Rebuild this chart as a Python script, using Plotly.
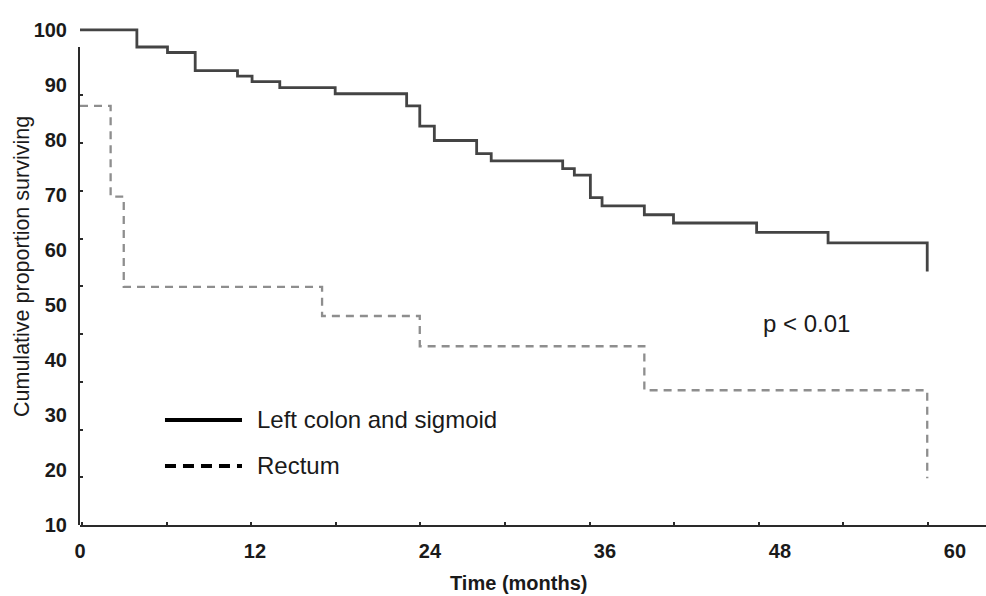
import plotly.graph_objects as go

# ---- data ----
left_months = [0, 3.9, 6.0, 7.9, 10.8, 11.8, 13.7, 17.5, 22.4, 23.3, 24.3, 27.2, 28.2,
               33.1, 33.9, 35.0, 35.8, 38.7, 40.7, 46.4, 51.3, 58.1]
left_surv = [100, 96.9, 95.9, 92.6, 91.6, 90.6, 89.5, 88.4, 86.2, 82.5, 79.9, 77.5, 76.2,
             74.8, 73.6, 69.5, 68.0, 66.4, 64.9, 63.2, 61.3, 56.1]
rect_months = [0, 2.1, 3.0, 16.6, 23.3, 38.7, 58.1]
rect_surv = [86.2, 69.7, 53.3, 48.0, 42.5, 34.5, 18.5]

x_ticks = [0, 12, 24, 36, 48, 60]
y_ticks = [10, 20, 30, 40, 50, 60, 70, 80, 90, 100]
series_names = ["Left colon and sigmoid", "Rectum"]
p_text = "p < 0.01"

FONT = "Liberation Sans, Arial, sans-serif"

fig = go.Figure()
fig.add_trace(go.Scatter(x=left_months, y=left_surv, mode="lines", line_shape="hv",
                         line=dict(color="#444444", width=2.8), name=series_names[0],
                         showlegend=False))
fig.add_trace(go.Scatter(x=rect_months, y=rect_surv, mode="lines", line_shape="hv",
                         line=dict(color="#8e8e8e", width=2.3, dash="8px,6px"),
                         name=series_names[1], showlegend=False))
# invisible trace that carries the short axis line with its small tick nubs
fig.add_trace(go.Scatter(x=[None], y=[None], yaxis="y2", showlegend=False,
                         hoverinfo="skip"))

fig.update_layout(
    width=986, height=596,
    margin=dict(l=80, r=0, t=14, b=71),
    paper_bgcolor="white", plot_bgcolor="rgba(0,0,0,0)",
    font=dict(family=FONT, color="#1a1a1a", size=20),
    xaxis=dict(range=[0, 62.13], tickvals=x_ticks, ticks="", showgrid=False,
               zeroline=False, showline=True, linecolor="#2a2a2a", linewidth=2,
               tickfont=dict(size=20, color="#1a1a1a", weight="bold"), ticklabelstandoff=7,
               minor=dict(ticks="inside", tick0=0.14, dtick=5.8, ticklen=3,
                          tickwidth=2, tickcolor="#2a2a2a", showgrid=False)),
    yaxis=dict(range=[10, 102.9], tickvals=y_ticks, ticks="", showgrid=False,
               zeroline=False, showline=False,
               tickfont=dict(size=20, color="#1a1a1a", weight="bold"), ticklabelstandoff=12),
    yaxis2=dict(domain=[0, 0.9354], anchor="x", range=[10, 96.9], showline=True,
                linecolor="#2a2a2a", linewidth=2, ticks="inside", ticklen=3,
                tickwidth=2, tickcolor="#2a2a2a", tick0=10, dtick=8.68,
                showticklabels=False, showgrid=False, zeroline=False),
    showlegend=False,
)

# hand-drawn legend (long black samples as in the original)
fig.add_shape(type="line", xref="paper", yref="paper", x0=0.0938, x1=0.1788,
              y0=0.2055, y1=0.2055, line=dict(color="black", width=4))
fig.add_shape(type="line", xref="paper", yref="paper", x0=0.0938, x1=0.1788,
              y0=0.1155, y1=0.1155, line=dict(color="black", width=4, dash="11px,7px"))
fig.add_annotation(xref="paper", yref="paper", x=0.1932, y=0.2055, text=series_names[0],
                   showarrow=False, xanchor="left", yanchor="middle",
                   font=dict(size=24, color="#1a1a1a"))
fig.add_annotation(xref="paper", yref="paper", x=0.1932, y=0.1155, text=series_names[1],
                   showarrow=False, xanchor="left", yanchor="middle",
                   font=dict(size=24, color="#1a1a1a"))
fig.add_annotation(xref="paper", yref="paper", x=0.8024, y=0.3953, text=p_text,
                   showarrow=False, xanchor="center", yanchor="middle",
                   font=dict(size=24, color="#1a1a1a"))

# axis titles
fig.add_annotation(xref="paper", yref="paper", x=(518 - 80) / 906, y=(525 - 583) / 511,
                   text="<b>Time (months)</b>", showarrow=False, xanchor="center",
                   yanchor="middle", font=dict(size=20, color="#1a1a1a"))
fig.add_annotation(xref="paper", yref="paper", x=(22 - 80) / 906, y=(525 - 267) / 511,
                   text="Cumulative proportion surviving", showarrow=False,
                   textangle=-90, xanchor="center", yanchor="middle",
                   font=dict(size=21.5, color="#1a1a1a"))

fig.write_html("out.html")
